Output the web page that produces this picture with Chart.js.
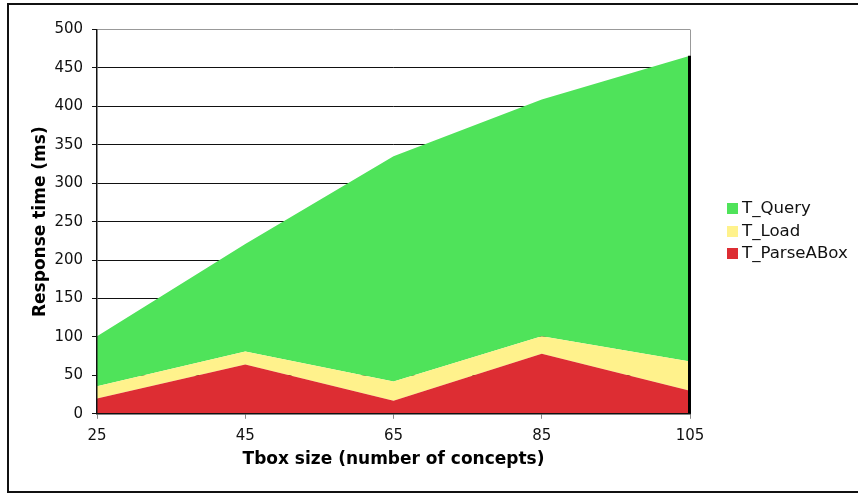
<!DOCTYPE html>
<html>
<head>
<meta charset="utf-8">
<script src="https://cdn.jsdelivr.net/npm/chart.js@4"></script>
<style>
    body { margin: 0; background: #fff; }
    .wrap { position: relative; width: 858px; height: 494px; overflow: hidden; }
    #myChart { position: absolute; left: 0; top: 0; }
    .frame {
        position: absolute; left: 7px; top: 3px; width: 900px; height: 490px;
        box-sizing: border-box; border: 2px solid #111; pointer-events: none;
    }
    .legend {
        position: absolute; left: 727px; top: 197px;
        font: 16.6px "DejaVu Sans", Verdana, sans-serif; color: #111;
    }
    .legend div { height: 22.7px; line-height: 22px; white-space: nowrap; }
    .legend span {
        display: inline-block; width: 11px; height: 11px; margin-right: 4px;
        vertical-align: -1px;
    }
</style>
</head>
<body>
<div class="wrap">
    <canvas id="myChart" width="858" height="494"></canvas>
    <div class="frame"></div>
    <div class="legend" id="legend"></div>
</div>
<script>
    // values (ms), stacked bottom to top
    const categories = ['25', '45', '65', '85', '105'];
    const parseTimes = [20, 64, 17, 78, 30];
    const loadTimes = [16, 17, 25, 23, 38];
    const queryTimes = [65, 140, 293, 308, 398];

    const colors = {
        parse: '#DD2D33',
        load: '#FFF28C',
        query: '#4FE35A'
    };

    const font = '"DejaVu Sans", Verdana, sans-serif';

    // black edge on the right side of the stack
    const edgeLine = {
        id: 'edgeLine',
        afterDatasetsDraw(chart) {
            const { ctx, scales: { x, y } } = chart;
            const last = categories.length - 1;
            const top = parseTimes[last] + loadTimes[last] + queryTimes[last];
            const px = x.getPixelForValue(last);
            ctx.save();
            ctx.strokeStyle = '#000';
            ctx.lineWidth = 3;
            ctx.beginPath();
            ctx.moveTo(px - 0.5, y.getPixelForValue(0));
            ctx.lineTo(px - 0.5, y.getPixelForValue(top));
            ctx.stroke();
            ctx.restore();
        }
    };

    const makeSet = (label, data, color, fill) => ({
        label: label,
        data: data,
        backgroundColor: color,
        borderColor: color,
        borderWidth: 0,
        pointRadius: 0,
        tension: 0,
        fill: fill
    });

    const ctx = document.getElementById('myChart').getContext('2d');
    new Chart(ctx, {
        type: 'line',
        data: {
            labels: categories,
            datasets: [
                makeSet('T_ParseABox', parseTimes, colors.parse, 'origin'),
                makeSet('T_Load', loadTimes, colors.load, '-1'),
                makeSet('T_Query', queryTimes, colors.query, '-1')
            ]
        },
        options: {
            responsive: false,
            animation: false,
            layout: { padding: { left: 26, right: 168, top: 29.5, bottom: 21.8 } },
            plugins: {
                legend: { display: false },
                tooltip: { enabled: false }
            },
            scales: {
                x: {
                    offset: false,
                    grid: {
                        color: (c) => c.index === categories.length - 1 ? '#999' : 'rgba(0,0,0,0)',
                        tickColor: '#888',
                        tickLength: 5
                    },
                    border: { color: '#111', width: 1.5, z: 1 },
                    ticks: { color: '#111', padding: 8, font: { family: font, size: 15 } },
                    title: {
                        display: true,
                        text: 'Tbox size (number of concepts)',
                        color: '#000',
                        padding: { top: -3, bottom: 2 },
                        font: { family: font, size: 17, weight: 'bold' }
                    }
                },
                y: {
                    stacked: true,
                    min: 0,
                    max: 500,
                    grid: {
                        color: (c) => c.tick && c.tick.value === 500 ? '#999' : '#111',
                        tickColor: '#111',
                        tickLength: 5
                    },
                    border: { color: '#111', width: 1.5, z: 1 },
                    ticks: { stepSize: 50, color: '#111', padding: 9, font: { family: font, size: 15 } },
                    title: {
                        display: true,
                        text: 'Response time (ms)',
                        color: '#000',
                        padding: { top: 4, bottom: -5 },
                        font: { family: font, size: 17, weight: 'bold' }
                    }
                }
            }
        },
        plugins: [edgeLine]
    });

    // legend, top to bottom like the picture
    const legend = document.getElementById('legend');
    [['T_Query', colors.query], ['T_Load', colors.load], ['T_ParseABox', colors.parse]].forEach(([name, color]) => {
        const row = document.createElement('div');
        const box = document.createElement('span');
        box.style.background = color;
        row.appendChild(box);
        row.appendChild(document.createTextNode(name));
        legend.appendChild(row);
    });
</script>
</body>
</html>
